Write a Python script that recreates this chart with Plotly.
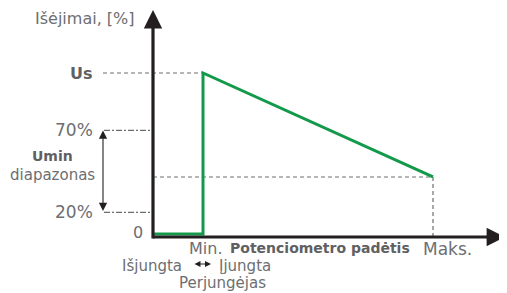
import plotly.graph_objects as go

# ---- data (schematic units: x = potentiometer position, Maks = 1; y = output, Us = 100)
x_switch = 0.1786          # "Min." position where the switch turns on
x_max = 1.0                # "Maks." position
level_us = 100             # Us
level_70 = 65              # 70 %
level_20 = 15              # 20 %
level_end = 36.6           # output at Maks.
level_off = 1.8            # output while switched off (drawn just above the axis)

green_x = [0, x_switch, x_switch, x_max]
green_y = [level_off, level_off, level_us, level_end]

tick_labels = ["Us", "70%", "20%", "0"]
tick_values = [level_us, level_70, level_20, 0]

GRAY = "#6d6e71"
BGRAY = "#5f6062"
DARK = "#231f20"
GREEN = "#12994a"
FONT = "DejaVu Sans"

OFF = 8                      # page body margin
W, H = 507 - OFF, 293 - OFF  # figure size
px_per_x = 280.0
px_per_y = 1.64
x0_px, y0_px = 153 - OFF, 237 - OFF   # origin in figure pixels
xr = [-x0_px / px_per_x, (W - x0_px) / px_per_x]
yr = [-(H - y0_px) / px_per_y, y0_px / px_per_y]

def X(p):  # viewport pixel -> data x
    return (p - OFF - x0_px) / px_per_x

def Y(p):  # viewport pixel -> data y
    return (y0_px - (p - OFF)) / px_per_y

fig = go.Figure()

# dashed guide lines
fig.add_trace(go.Scatter(x=[X(103), x_switch], y=[level_us, level_us], mode="lines",
                         line=dict(color=GRAY, width=1.2, dash="4px,3px"), hoverinfo="skip"))
for lv in (level_70, level_20):
    fig.add_trace(go.Scatter(x=[X(104), 0], y=[lv, lv], mode="lines",
                             line=dict(color=GRAY, width=1.2, dash="6px,2px,2px,2px"), hoverinfo="skip"))
fig.add_trace(go.Scatter(x=[0, x_max, x_max], y=[level_end, level_end, 0], mode="lines",
                         line=dict(color=GRAY, width=1.2, dash="4px,3px"), hoverinfo="skip"))

# green characteristic
fig.add_trace(go.Scatter(x=green_x, y=green_y, mode="lines",
                         line=dict(color=GREEN, width=3), hoverinfo="skip"))

ann = []
# axes with arrows
ann.append(dict(x=0, y=Y(10), ax=0, ay=Y(240), xref="x", yref="y", axref="x", ayref="y",
                text="", showarrow=True, arrowhead=2, arrowsize=1.15, arrowwidth=3.2, arrowcolor=DARK))
ann.append(dict(x=X(505), y=0, ax=X(151.5), ay=0, xref="x", yref="y", axref="x", ayref="y",
                text="", showarrow=True, arrowhead=2, arrowsize=1.15, arrowwidth=3.2, arrowcolor=DARK))
# Umin range double arrow
ann.append(dict(x=X(103), y=level_70, ax=X(103), ay=level_20, xref="x", yref="y", axref="x", ayref="y",
                text="", showarrow=True, arrowhead=2, startarrowhead=2, arrowside="end+start",
                arrowsize=1.5, arrowwidth=1.1, arrowcolor=DARK))
# switch double arrow (Išjungta <-> Įjungta)
ann.append(dict(x=X(211), y=Y(264), ax=X(193), ay=Y(264), xref="x", yref="y", axref="x", ayref="y",
                text="", showarrow=True, arrowhead=2, startarrowhead=2, arrowside="end+start",
                arrowsize=1.0, arrowwidth=1.2, arrowcolor=DARK))

def label(x, y, text, size=15, anchor="center", bold=False, color=GRAY):
    ann.append(dict(x=x, y=y, xref="x", yref="y", text=f"<b>{text}</b>" if bold else text,
                    showarrow=False, xanchor=anchor, yanchor="middle",
                    font=dict(family=FONT, size=size, color=color)))

label(X(136), Y(18), "Išėjimai, [%]", 16, "right")
label(X(95), level_us, tick_labels[0], 16, "right", bold=True, color=BGRAY)
label(X(95), level_70, tick_labels[1], 17, "right")
label(X(95), level_20, tick_labels[2], 17, "right")
label(X(145), Y(232), tick_labels[3], 16, "right")
label(X(52), Y(156), "Umin", 14, "center", bold=True, color=BGRAY)
label(X(52), Y(175), "diapazonas", 15, "center")
label(X(205), Y(248), "Min.", 16, "center")
label(X(320), Y(248), "Potenciometro padėtis", 14, "center", bold=True, color=BGRAY)
label(X(447), Y(249), "Maks.", 17, "center")
label(X(184), Y(266), "Išjungta", 15, "right")
label(X(217), Y(266), "Įjungta", 15, "left")
label(X(222), Y(283), "Perjungėjas", 15, "center")

fig.update_layout(
    width=W, height=H, margin=dict(l=0, r=0, t=0, b=0),
    paper_bgcolor="white", plot_bgcolor="white", showlegend=False,
    xaxis=dict(range=xr, visible=False, fixedrange=True),
    yaxis=dict(range=yr, visible=False, fixedrange=True),
    annotations=ann,
)
fig.write_html("out.html")
